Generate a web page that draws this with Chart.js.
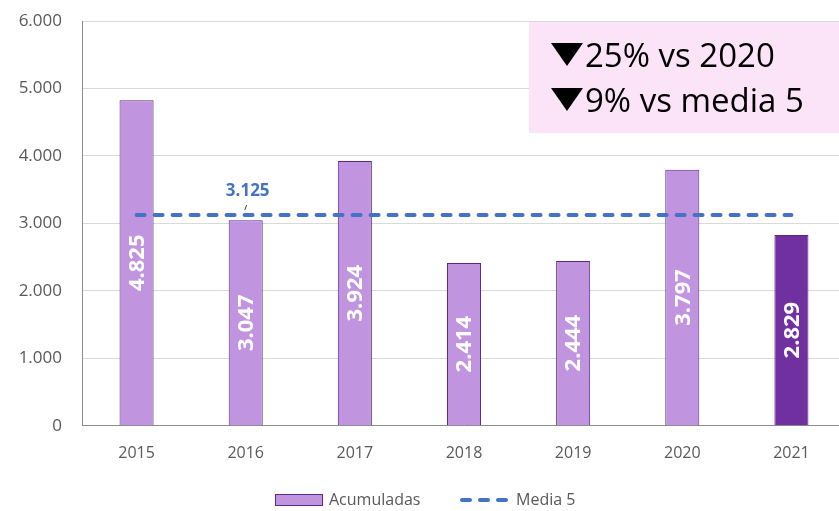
<!DOCTYPE html>
<html>
<head>
<meta charset="utf-8">
<script src="https://cdn.jsdelivr.net/npm/chart.js@4.4.0/dist/chart.umd.min.js"></script>
<style>
  body { margin: 0; overflow: hidden; background: #fff; }
  #wrap { width: 839px; height: 511px; overflow: hidden; }
</style>
</head>
<body>
<div id="wrap"><canvas id="myChart" width="846" height="511"></canvas></div>
<script>
// datos
const years = ['2015', '2016', '2017', '2018', '2019', '2020', '2021']
const acumuladas = [4825, 3047, 3924, 2414, 2444, 3797, 2829]
const media5 = [3125, 3125, 3125, 3125, 3125, 3125, 3125]
const mediaLabelIndex = 1
const boxLines = ['25% vs 2020', '9% vs media 5']

const barColors = years.map((y, i) => i === years.length - 1 ? '#7030A0' : '#C194DF')

function fmt(v){
    return String(Math.round(v)).replace(/\B(?=(\d{3})+(?!\d))/g, '.')
}

const FONT = '"Open Sans", "Noto Sans", sans-serif'

// etiquetas dentro de las barras + caja rosa + etiqueta de la media + leyenda
const extras = {
  id: 'extras',
  beforeDatasetsDraw(chart){
    const ctx = chart.ctx
    const a = chart.chartArea
    // caja rosa
    ctx.save()
    ctx.fillStyle = '#FCE4F8'
    ctx.fillRect(529, a.top + 1, 320, 111)
    ctx.restore()
  },
  afterDatasetsDraw(chart){
    const ctx = chart.ctx
    const meta = chart.getDatasetMeta(0)
    const ds = chart.data.datasets
    ctx.save()
    ctx.fillStyle = '#ffffff'
    ctx.font = 'bold 22px ' + FONT
    ctx.textAlign = 'center'
    ctx.textBaseline = 'middle'
    meta.data.forEach((bar, i) => {
        const cy = (bar.y + bar.base) / 2
        ctx.save()
        ctx.translate(bar.x, cy)
        ctx.rotate(-Math.PI / 2)
        ctx.fillText(fmt(acumuladas[i]), 0, 1)
        ctx.restore()
    })

    // etiqueta media
    const lm = chart.getDatasetMeta(1).data[mediaLabelIndex]
    ctx.fillStyle = '#4472C4'
    ctx.font = 'bold 17px ' + FONT
    ctx.fillText(fmt(media5[mediaLabelIndex]), lm.x + 2, lm.y - 24)
    ctx.strokeStyle = '#404040'
    ctx.lineWidth = 1
    ctx.beginPath()
    ctx.moveTo(lm.x + 1, lm.y - 10)
    ctx.lineTo(lm.x - 1, lm.y - 5)
    ctx.stroke()

    // texto de la caja
    ctx.fillStyle = '#000000'
    ctx.font = '33px ' + FONT
    ctx.textAlign = 'left'
    ctx.textBaseline = 'alphabetic'
    boxLines.forEach((t, i) => {
        const y0 = 43 + i * 45
        ctx.beginPath()
        ctx.moveTo(551, y0)
        ctx.lineTo(583, y0)
        ctx.lineTo(567, y0 + 23)
        ctx.closePath()
        ctx.fill()
        ctx.fillText(t, 585, y0 + 24)
    })

    // leyenda
    const ly = 500
    ctx.font = '16px ' + FONT
    ctx.textBaseline = 'middle'
    ctx.fillStyle = '#C194DF'
    ctx.fillRect(275, ly - 6, 48, 12)
    ctx.strokeStyle = '#5B2A86'
    ctx.lineWidth = 1
    ctx.strokeRect(275.5, ly - 5.5, 47, 11)
    ctx.fillStyle = '#595959'
    ctx.fillText(ds[0].label, 329, ly)
    ctx.strokeStyle = ds[1].borderColor
    ctx.lineWidth = 4
    ctx.lineCap = 'round'
    ctx.setLineDash(ds[1].borderDash)
    ctx.beginPath()
    ctx.moveTo(462, ly)
    ctx.lineTo(508, ly)
    ctx.stroke()
    ctx.setLineDash([])
    ctx.fillText(ds[1].label, 516, ly)
    ctx.restore()
  }
}

new Chart(document.getElementById('myChart'), {
  data: {
    labels: years,
    datasets: [{
        type: 'bar',
        label: 'Acumuladas',
        data: acumuladas,
        backgroundColor: barColors,
        borderColor: '#5B2A86',
        borderWidth: 1,
        barPercentage: 0.312,
        categoryPercentage: 1,
        order: 2
    },
    {
        type: 'line',
        label: 'Media 5',
        data: media5,
        borderColor: '#4472C4',
        backgroundColor: '#4472C4',
        borderWidth: 4,
        borderDash: [8, 10],
        borderCapStyle: 'round',
        pointRadius: 0,
        fill: false,
        order: 1
    }]
  },
  options: {
    responsive: false,
    animation: false,
    layout: { padding: { top: 21, left: 0, right: 0, bottom: 38 } },
    scales: {
      x: {
        grid: { display: false },
        border: { color: '#8c8c8c', width: 1 },
        ticks: { color: '#595959', font: { size: 16, family: FONT }, padding: 10 }
      },
      y: {
        min: 0,
        max: 6000,
        afterFit(scale){
            scale.width = 82
            scale.paddingTop = 0
            scale.paddingBottom = 0
        },
        grid: { color: '#d9d9d9', drawTicks: false },
        border: { color: '#8c8c8c', width: 1 },
        ticks: {
          stepSize: 1000,
          color: '#595959',
          font: { size: 17, family: FONT },
          padding: 20,
          callback: (v) => fmt(v)
        }
      }
    },
    plugins: {
      legend: { display: false },
      tooltip: { enabled: false }
    }
  },
  plugins: [extras]
})
</script>
</body>
</html>
